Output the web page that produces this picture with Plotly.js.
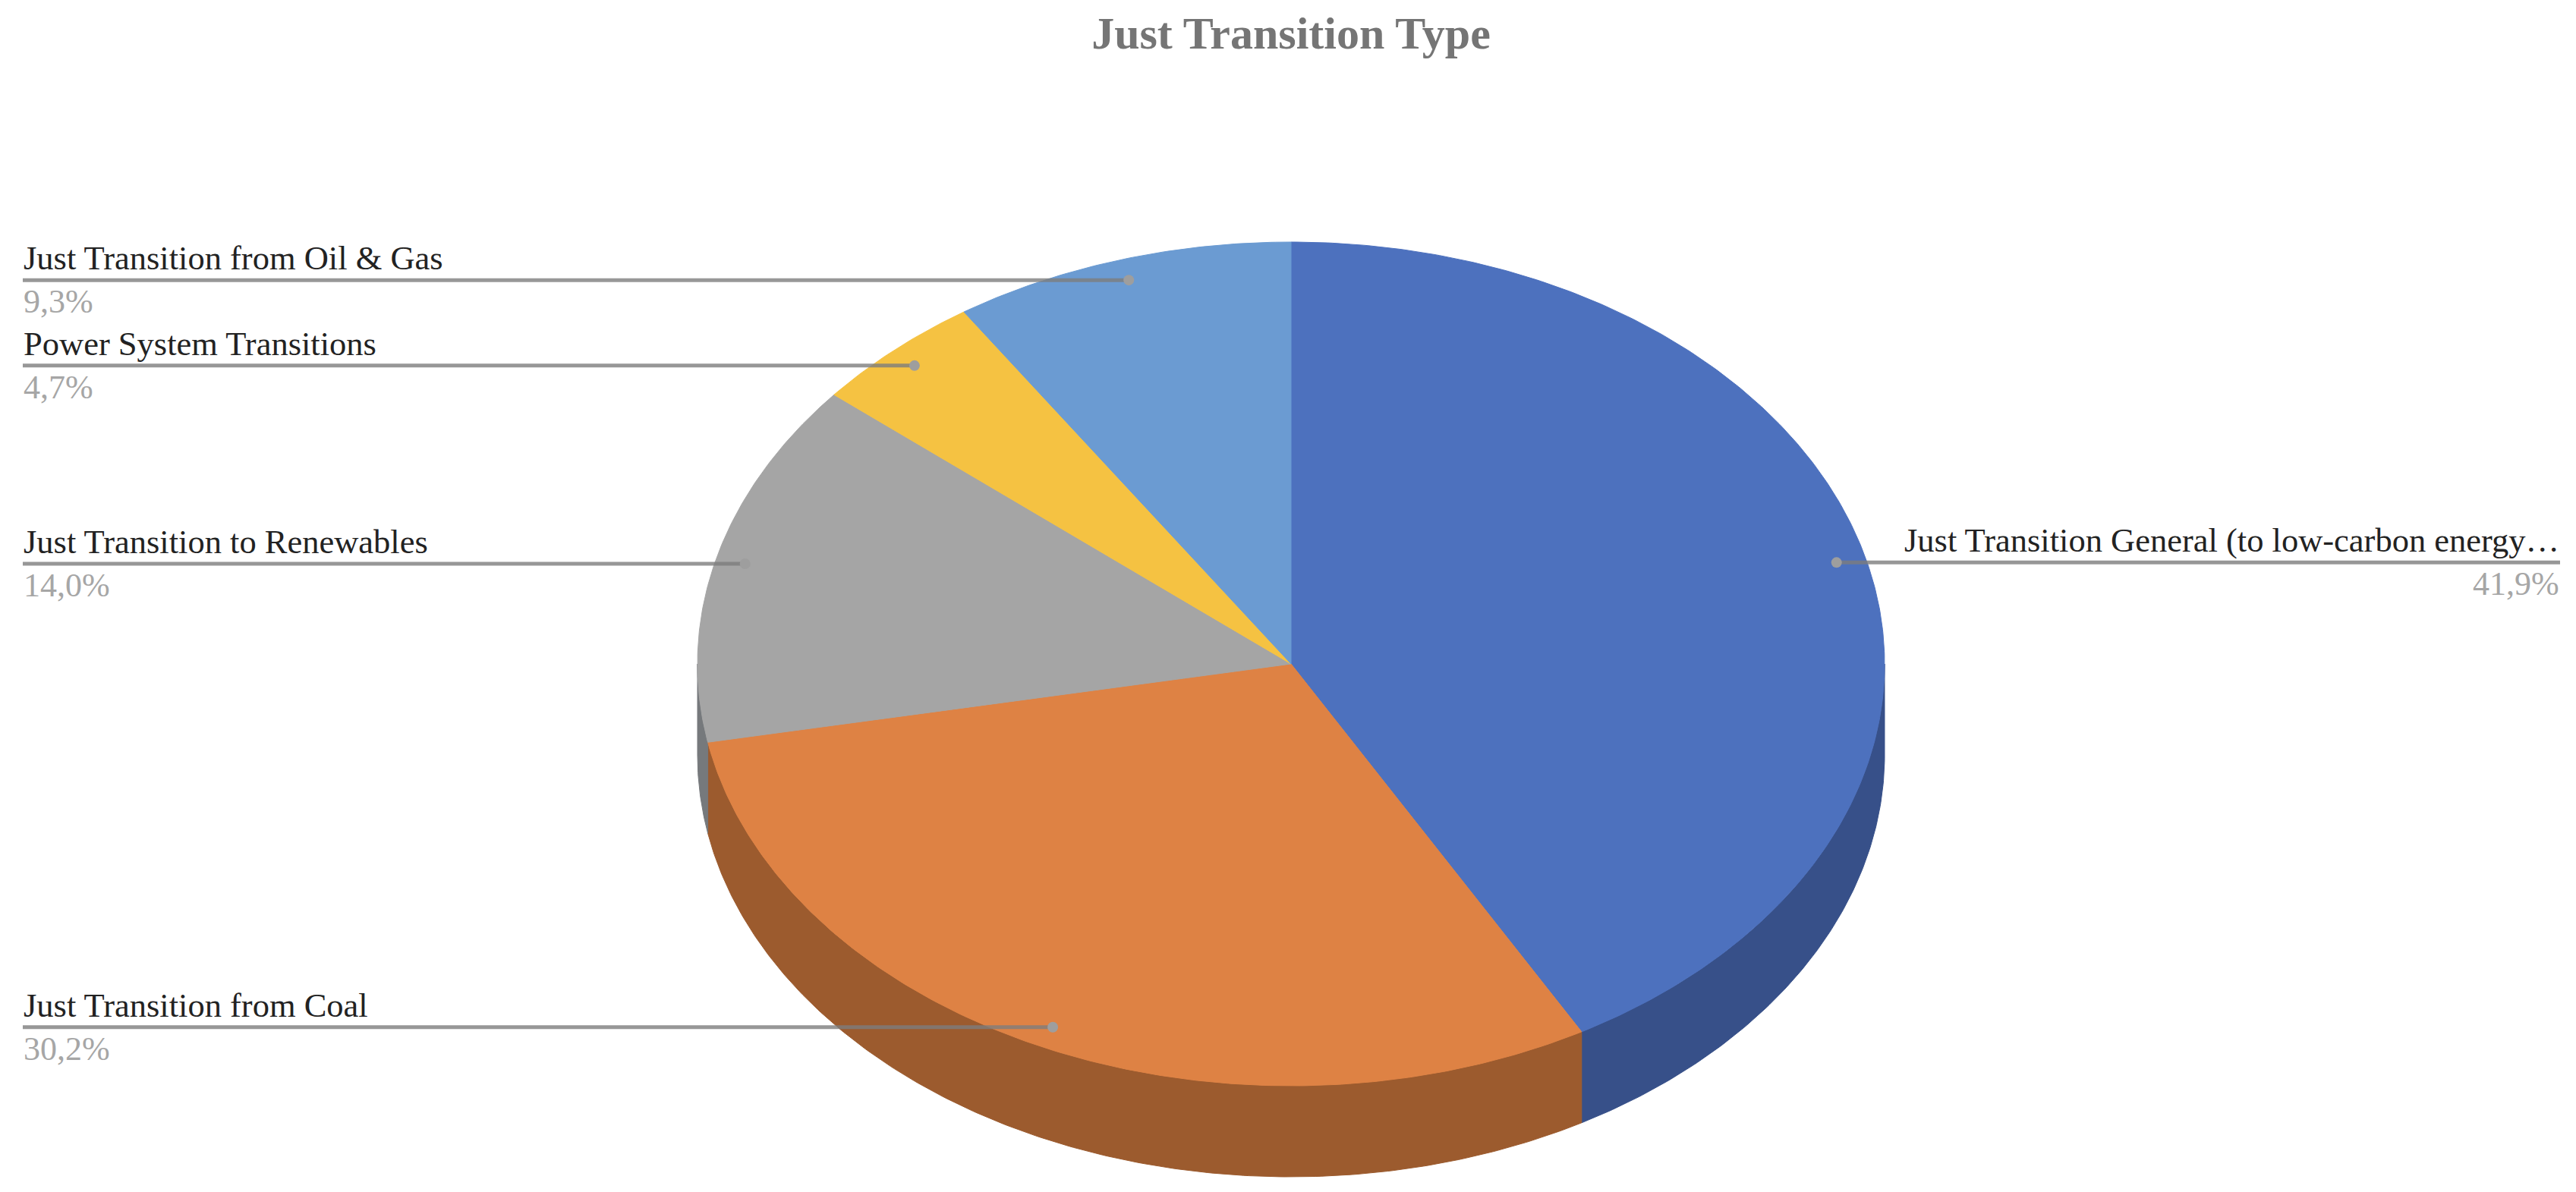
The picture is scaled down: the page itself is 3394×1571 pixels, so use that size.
<!DOCTYPE html>
<html>
<head>
<meta charset="utf-8">
<script src="https://cdn.plot.ly/plotly-3.0.1.min.js"></script>
<style>html,body{margin:0;padding:0;background:#fff;overflow:hidden}</style>
</head>
<body>
<div id="chart" style="width:3394px;height:1571px"></div>
<script>
const categories = [
  "Just Transition General (to low-carbon energy…",
  "Just Transition from Coal",
  "Just Transition to Renewables",
  "Power System Transitions",
  "Just Transition from Oil & Gas"
];
const values = [41.9, 30.2, 14.0, 4.7, 9.3];
const topColors = ["#4D71BE", "#DE8244", "#A5A5A5", "#F5C242", "#6B9BD2"];
const sideColors = ["#375089", "#9C5B2E", "#76797C", "#B08C30", "#4D7098"];
const labelSides = ["right", "left", "left", "left", "left"];

const cx = 1701, cy = 875, rx = 782, ry = 556, depth = 120;
const leftX = 30, rightX = 3373, dotRadius = 0.95;

const total = values.reduce((a, b) => a + b, 0);
const W = 3394, H = 1571;
const px = (deg, r) => cx + rx * r * Math.sin(deg * Math.PI / 180);
const py = (deg, r) => cy - ry * r * Math.cos(deg * Math.PI / 180);
function arc(a0, a1) {
  const n = Math.max(2, Math.ceil(Math.abs(a1 - a0) * 2));
  const out = [];
  for (let i = 0; i <= n; i++) out.push(a0 + (a1 - a0) * i / n);
  return out;
}

const annotations = [];
const sideTraces = [], topTraces = [], lineTraces = [];
let cum = 0;
values.forEach((v, i) => {
  const a0 = cum / total * 360, a1 = (cum + v) / total * 360, mid = (a0 + a1) / 2;
  cum += v;
  // front wall
  const s0 = Math.max(a0, 90), s1 = Math.min(a1, 270);
  if (s1 > s0) {
    const as = arc(s0, s1);
    const xs = as.map(a => px(a, 1)).concat(as.slice().reverse().map(a => px(a, 1)));
    const ys = as.map(a => py(a, 1)).concat(as.slice().reverse().map(a => py(a, 1) + depth));
    sideTraces.push({x: xs.concat([xs[0]]), y: ys.concat([ys[0]]), mode: "lines", fill: "toself",
      fillcolor: sideColors[i], line: {color: sideColors[i], width: 1}, hoverinfo: "skip"});
  }
  // top face
  const as = arc(a0, a1);
  topTraces.push({
    x: [cx].concat(as.map(a => px(a, 1)), [cx]),
    y: [cy].concat(as.map(a => py(a, 1)), [cy]),
    mode: "lines", fill: "toself", fillcolor: topColors[i],
    line: {color: topColors[i], width: 1}, name: categories[i], hoverinfo: "skip"
  });
  // leader line and dot
  const dx = px(mid, dotRadius), dy = py(mid, dotRadius);
  const right = labelSides[i] === "right";
  const edge = right ? rightX : leftX;
  lineTraces.push({x: [edge, dx], y: [dy, dy], mode: "lines",
    line: {color: "rgba(125,125,125,0.8)", width: 5}, hoverinfo: "skip"});
  lineTraces.push({x: [dx], y: [dy], mode: "markers",
    marker: {color: "#9E9E9E", size: 14}, hoverinfo: "skip"});
  const anchor = right ? "right" : "left";
  annotations.push({x: edge, y: dy - 3, xref: "x", yref: "y", xanchor: anchor, yanchor: "bottom",
    text: categories[i], showarrow: false, borderpad: 0,
    font: {family: "Liberation Serif", size: 44.5, color: "#222222"}});
  annotations.push({x: edge, y: dy + 3, xref: "x", yref: "y", xanchor: anchor, yanchor: "top",
    text: v.toFixed(1).replace(".", ",") + "%", showarrow: false, borderpad: 0,
    font: {family: "Liberation Serif", size: 44, color: "#A6A6A6"}});
});

const layout = {
  width: W, height: H,
  margin: {l: 0, r: 0, t: 0, b: 0},
  paper_bgcolor: "#fff", plot_bgcolor: "#fff",
  showlegend: false,
  title: {text: "<b>Just Transition Type</b>", x: 1701 / W, xanchor: "center", y: 1 - 43 / H, yanchor: "middle",
    font: {family: "Liberation Serif", size: 60, color: "#757575"}},
  xaxis: {range: [0, W], visible: false, fixedrange: true},
  yaxis: {range: [H, 0], visible: false, fixedrange: true},
  annotations
};
Plotly.newPlot("chart", sideTraces.concat(topTraces, lineTraces), layout, {staticPlot: true, displayModeBar: false});
</script>
</body>
</html>
